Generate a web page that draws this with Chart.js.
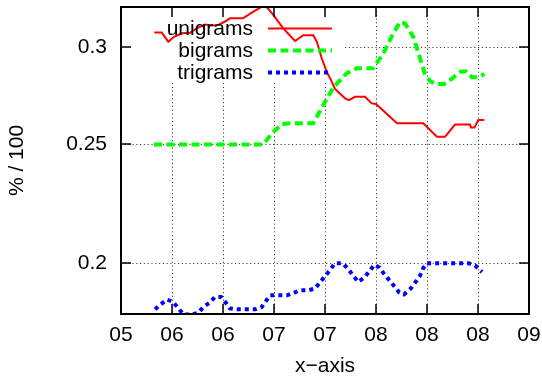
<!DOCTYPE html>
<html><head><meta charset="utf-8">
<style>html,body{margin:0;padding:0;background:#fff;}canvas{display:block}</style>
<script src="https://cdn.jsdelivr.net/npm/chart.js@4/dist/chart.umd.min.js"></script>
</head><body>
<canvas id="c" width="542" height="379"></canvas>
<script>
// x positions are in tick units (0 = first tick "05", 8 = last tick "09")
const xTickLabels = ['05','06','06','07','07','08','08','08','09'];
const yTickValues = [0.2, 0.25, 0.3];
const yTickLabels = ['0.2', '0.25', '0.3'];
const seriesNames = ['unigrams', 'bigrams', 'trigrams'];

const uniX = [0.653,0.798,0.927,1.039,1.196,1.353,1.484,1.647,1.784,1.902,2.039,2.137,2.392,2.588,2.765,2.863,2.986,3.182,3.412,3.575,3.771,3.843,3.935,4.033,4.118,4.196,4.392,4.471,4.588,4.784,4.916,5.0,5.412,5.927,6.196,6.353,6.549,6.843,6.863,6.931,7.006,7.124];
const uniY = [0.3085,0.3085,0.3032,0.3060,0.3080,0.3083,0.3109,0.3131,0.3126,0.3128,0.3149,0.3168,0.3168,0.3206,0.3238,0.3234,0.3188,0.3109,0.3036,0.3069,0.3069,0.3030,0.2939,0.2866,0.2821,0.2774,0.2726,0.2717,0.2734,0.2734,0.2700,0.2697,0.2601,0.2601,0.2536,0.2536,0.2595,0.2595,0.2581,0.2581,0.2617,0.2617];

const biX = [0.647,2.790,2.980,3.157,3.314,3.771,4.0,4.163,4.425,4.622,4.941,5.137,5.333,5.471,5.569,5.731,5.843,5.961,6.059,6.176,6.333,6.490,6.667,6.765,6.882,7.0,7.124];
const biY = [0.25,0.25,0.2558,0.2598,0.2601,0.2601,0.2707,0.2782,0.2857,0.2884,0.2884,0.2962,0.3076,0.3146,0.3137,0.3060,0.2957,0.2853,0.2816,0.2800,0.2800,0.2829,0.2867,0.2867,0.2836,0.2836,0.2853];

const triX = [0.667,0.778,0.902,1.014,1.124,1.222,1.373,1.516,1.614,1.731,1.843,1.961,2.059,2.137,2.294,2.627,2.759,2.843,2.922,3.255,3.378,3.510,3.673,3.804,3.902,4.0,4.098,4.196,4.347,4.457,4.555,4.653,4.771,4.869,4.967,5.065,5.163,5.261,5.359,5.457,5.549,5.680,5.778,5.863,5.927,6.0,6.810,6.941,7.078];
const triY = [0.1834,0.1851,0.1868,0.1860,0.1839,0.1816,0.1816,0.1822,0.1842,0.1856,0.1877,0.1877,0.1856,0.1837,0.1834,0.1834,0.1842,0.1863,0.1883,0.1883,0.1891,0.1901,0.1901,0.1907,0.1929,0.1952,0.1974,0.2000,0.2000,0.1978,0.1953,0.1931,0.1947,0.1970,0.1994,0.1984,0.1959,0.1937,0.1915,0.1893,0.1886,0.1907,0.1931,0.1953,0.1982,0.2000,0.2000,0.1992,0.1967];

const yMin = 0.1818, yMax = 0.3236;
const FONT = 'Liberation Sans, Arial, sans-serif';

function pts(xs, ys){ return xs.map((x,i)=>({x:x, y:ys[i]})); }

const gnuplotDecor = {
  id: 'gnuplotDecor',
  beforeDatasetsDraw(chart){
    const {ctx, chartArea:a, scales:{x, y}} = chart;
    const keyRight = 345, keyBottom = 83;
    ctx.save();
    ctx.strokeStyle = '#444';
    ctx.lineWidth = 1;
    ctx.setLineDash([1.2, 2.6]);
    for (let i = 1; i < xTickLabels.length - 1; i++){
      const px = Math.round(x.getPixelForValue(i)) + 0.5;
      const top = px < keyRight ? keyBottom : a.top;
      ctx.beginPath(); ctx.moveTo(px, top); ctx.lineTo(px, a.bottom); ctx.stroke();
    }
    yTickValues.forEach(v => {
      const py = Math.round(y.getPixelForValue(v)) + 0.5;
      const left = py < keyBottom ? keyRight : a.left;
      ctx.beginPath(); ctx.moveTo(left, py); ctx.lineTo(a.right, py); ctx.stroke();
    });
    ctx.restore();
  },
  afterDatasetsDraw(chart){
    const {ctx, chartArea:a, scales:{x, y}} = chart;
    ctx.save();
    // key
    const rows = [28.5, 50.5, 72.5];
    ctx.font = '21px ' + FONT;
    ctx.textAlign = 'right';
    ctx.textBaseline = 'middle';
    chart.data.datasets.forEach((ds, i) => {
      ctx.fillStyle = '#000';
      ctx.fillText(ds.label, 253, rows[i] + 1);
      ctx.strokeStyle = ds.borderColor;
      ctx.lineWidth = ds.borderWidth;
      ctx.setLineDash(ds.borderDash || []);
      ctx.beginPath(); ctx.moveTo(268, rows[i]); ctx.lineTo(332, rows[i]); ctx.stroke();
    });
    // frame
    ctx.setLineDash([]);
    ctx.strokeStyle = '#000';
    ctx.lineWidth = 2;
    ctx.strokeRect(a.left, a.top, a.right - a.left, a.bottom - a.top);
    ctx.lineWidth = 1.5;
    const tl = 10;
    for (let i = 1; i < xTickLabels.length - 1; i++){
      const px = Math.round(x.getPixelForValue(i));
      ctx.beginPath(); ctx.moveTo(px, a.bottom); ctx.lineTo(px, a.bottom - tl); ctx.stroke();
      ctx.beginPath(); ctx.moveTo(px, a.top); ctx.lineTo(px, a.top + tl); ctx.stroke();
    }
    yTickValues.forEach(v => {
      const py = Math.round(y.getPixelForValue(v));
      ctx.beginPath(); ctx.moveTo(a.left, py); ctx.lineTo(a.left + tl, py); ctx.stroke();
      ctx.beginPath(); ctx.moveTo(a.right, py); ctx.lineTo(a.right - tl, py); ctx.stroke();
    });
    ctx.restore();
  }
};

new Chart(document.getElementById('c'), {
  type: 'line',
  data: {
    datasets: [
      { label: seriesNames[0], data: pts(uniX, uniY), borderColor: '#ff0000', borderWidth: 2, pointRadius: 0, tension: 0 },
      { label: seriesNames[1], data: pts(biX, biY), borderColor: '#00ff00', borderWidth: 4, borderDash: [8, 4.5], pointRadius: 0, tension: 0 },
      { label: seriesNames[2], data: pts(triX, triY), borderColor: '#0000ff', borderWidth: 4, borderDash: [4, 4], pointRadius: 0, tension: 0 }
    ]
  },
  options: {
    responsive: false,
    animation: false,
    devicePixelRatio: 1,
    layout: { padding: { top: 7, right: 13, left: 0, bottom: 0 } },
    plugins: { legend: { display: false }, tooltip: { enabled: false } },
    scales: {
      x: {
        type: 'linear', min: 0, max: 8,
        grid: { display: false, drawTicks: false },
        border: { display: false },
        ticks: { stepSize: 1, autoSkip: false, maxRotation: 0, padding: 9, color: '#000',
                 font: { family: FONT, size: 21 },
                 callback: v => xTickLabels[v] },
        title: { display: true, text: 'x\u2212axis', color: '#000', font: { family: FONT, size: 21 }, padding: { top: 0, bottom: 0 } },
        afterFit: s => { s.height = 65; s.paddingLeft = 0; s.paddingRight = 0; }
      },
      y: {
        type: 'logarithmic', min: yMin, max: yMax,
        grid: { display: false, drawTicks: false },
        border: { display: false },
        afterBuildTicks: s => { s.ticks = yTickValues.map(v => ({ value: v })); },
        ticks: { padding: 14, color: '#000', font: { family: FONT, size: 21 },
                 callback: (v, i) => yTickLabels[i] },
        title: { display: true, text: '% / 100', color: '#000', font: { family: FONT, size: 21 }, padding: { top: 5, bottom: 0 } },
        afterFit: s => { s.width = 121; s.paddingTop = 0; s.paddingBottom = 0; }
      }
    }
  },
  plugins: [gnuplotDecor]
});
</script>
</body></html>
